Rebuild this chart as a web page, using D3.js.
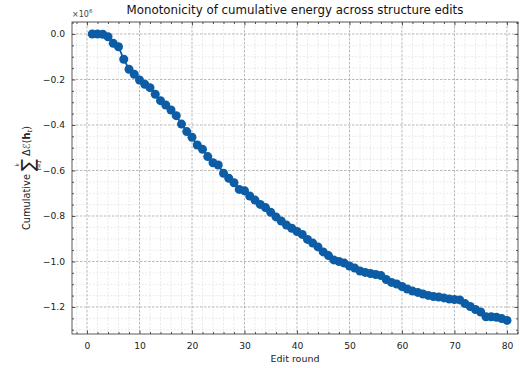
<!DOCTYPE html>
<html>
<head>
<meta charset="utf-8">
<script src="https://cdn.jsdelivr.net/npm/d3@7"></script>
<style>
  body { margin: 0; background: #fff; }
  svg { font-family: "DejaVu Sans", sans-serif; }
</style>
</head>
<body>
<div id="chart"></div>
<script>
"use strict";

// ------------------------- Data -------------------------

const editRounds = d3.range(1, 81);

// cumulative energy, units of 1e6
const cumulativeEnergy = [
    0.000, 0.000, -0.001, -0.012, -0.041, -0.056, -0.111, -0.155, -0.177, -0.202,
    -0.221, -0.236, -0.265, -0.293, -0.312, -0.334, -0.359, -0.396, -0.429, -0.454,
    -0.488, -0.507, -0.539, -0.566, -0.576, -0.612, -0.634, -0.654, -0.683, -0.689,
    -0.712, -0.730, -0.749, -0.763, -0.784, -0.804, -0.822, -0.840, -0.854, -0.868,
    -0.881, -0.903, -0.919, -0.936, -0.958, -0.974, -0.993, -1.000, -1.007, -1.020,
    -1.029, -1.042, -1.048, -1.053, -1.057, -1.062, -1.079, -1.092, -1.099, -1.110,
    -1.121, -1.130, -1.136, -1.143, -1.149, -1.154, -1.156, -1.160, -1.165, -1.167,
    -1.169, -1.185, -1.198, -1.211, -1.222, -1.243, -1.243, -1.245, -1.251, -1.259
];

const xTicks = [0, 10, 20, 30, 40, 50, 60, 70, 80];
const yTicks = [0, -0.2, -0.4, -0.6, -0.8, -1.0, -1.2];

const titleText = 'Monotonicity of cumulative energy across structure edits';
const xLabelText = 'Edit round';

// ------------------------- Layout -------------------------

const width = 520, height = 368;
const frame = { left: 72, right: 518, top: 22, bottom: 334 };
const color = '#0C5DA5';

const x = d3.scaleLinear().domain([-2.86, 82.1]).range([frame.left, frame.right]);
const y = d3.scaleLinear().domain([0.0527, -1.3187]).range([frame.top, frame.bottom]);

const svg = d3.select('#chart').append('svg')
    .attr('width', width)
    .attr('height', height);

// ------------------------- Grid -------------------------

const xMinor = d3.range(-2, 83, 2).filter(v => v % 10 !== 0);
const yMinor = d3.range(0.05, -1.35, -0.05)
    .map(v => Math.round(v * 100) / 100)
    .filter(v => Math.round(v * 100) % 20 !== 0);

const grid = svg.append('g');

function gridLines(values, vertical, stroke, widthPx, dash) {
    grid.append('g').selectAll('line').data(values).enter().append('line')
        .attr('x1', d => vertical ? x(d) : frame.left)
        .attr('x2', d => vertical ? x(d) : frame.right)
        .attr('y1', d => vertical ? frame.top : y(d))
        .attr('y2', d => vertical ? frame.bottom : y(d))
        .attr('stroke', stroke)
        .attr('stroke-width', widthPx)
        .attr('stroke-dasharray', dash);
}

gridLines(xMinor, true, '#dedede', 0.6, '2,1.5');
gridLines(yMinor, false, '#dedede', 0.6, '2,1.5');
gridLines(xTicks, true, '#9a9a9a', 0.7, '2.5,1.5');
gridLines(yTicks, false, '#9a9a9a', 0.7, '2.5,1.5');

// ------------------------- Axes -------------------------

const minus = s => s.replace('-', '\u2212');

function insideAxis(axisFn, scale, ticks, size) {
    return axisFn(scale).tickValues(ticks).tickSizeInner(-size).tickSizeOuter(0);
}

const bottomAxis = svg.append('g')
    .attr('transform', `translate(0,${frame.bottom})`)
    .call(insideAxis(d3.axisBottom, x, xTicks, 3.5).tickFormat(d3.format('d')).tickPadding(8));
const topAxis = svg.append('g')
    .attr('transform', `translate(0,${frame.top})`)
    .call(insideAxis(d3.axisTop, x, xTicks, 3.5).tickFormat(''));
const leftAxis = svg.append('g')
    .attr('transform', `translate(${frame.left},0)`)
    .call(insideAxis(d3.axisLeft, y, yTicks, 3.5).tickFormat(d => minus(d3.format('.1f')(d))).tickPadding(7));
const rightAxis = svg.append('g')
    .attr('transform', `translate(${frame.right},0)`)
    .call(insideAxis(d3.axisRight, y, yTicks, 3.5).tickFormat(''));

bottomAxis.append('g').call(insideAxis(d3.axisBottom, x, xMinor, 2).tickFormat(''));
topAxis.append('g').call(insideAxis(d3.axisTop, x, xMinor, 2).tickFormat(''));
leftAxis.append('g').call(insideAxis(d3.axisLeft, y, yMinor, 2).tickFormat(''));
rightAxis.append('g').call(insideAxis(d3.axisRight, y, yMinor, 2).tickFormat(''));

[bottomAxis, topAxis, leftAxis, rightAxis].forEach(a => {
    a.selectAll('.domain').remove();
    a.selectAll('line').attr('stroke', '#333').attr('stroke-width', 0.8);
    a.selectAll('text').attr('font-size', 9.2).attr('fill', '#222')
        .attr('font-family', '"DejaVu Sans", sans-serif');
});

svg.append('rect')
    .attr('x', frame.left).attr('y', frame.top)
    .attr('width', frame.right - frame.left)
    .attr('height', frame.bottom - frame.top)
    .attr('fill', 'none').attr('stroke', '#333').attr('stroke-width', 0.8);

// ------------------------- Series -------------------------

const points = editRounds.map((r, i) => ({ round: r, value: cumulativeEnergy[i] }));

svg.append('path')
    .datum(points)
    .attr('fill', 'none')
    .attr('stroke', color)
    .attr('stroke-width', 1.8)
    .attr('d', d3.line().x(d => x(d.round)).y(d => y(d.value)));

svg.selectAll('.pt').data(points).enter().append('circle')
    .attr('cx', d => x(d.round))
    .attr('cy', d => y(d.value))
    .attr('r', 4.5)
    .attr('fill', color);

// ------------------------- Labels -------------------------

svg.append('text')
    .attr('x', (frame.left + frame.right) / 2)
    .attr('y', 14)
    .attr('text-anchor', 'middle')
    .attr('font-size', 11.8)
    .attr('fill', '#111')
    .text(titleText);

svg.append('text')
    .attr('x', (frame.left + frame.right) / 2)
    .attr('y', 362)
    .attr('text-anchor', 'middle')
    .attr('font-size', 9.5)
    .attr('fill', '#222')
    .text(xLabelText);

const offset = svg.append('text')
    .attr('x', frame.left)
    .attr('y', 17)
    .attr('font-size', 8)
    .attr('fill', '#444');
offset.append('tspan').text('\u00d710');
offset.append('tspan').attr('font-size', 5.5).attr('dy', -4).text('6');

// y label: Cumulative sum_{t=1}^{k} ΔE(h_t), laid out piece by piece
const yLabel = svg.append('g')
    .attr('transform', `translate(29.5,${(frame.top + frame.bottom) / 2}) rotate(-90)`);

function piece(text, size, dy, opts = {}) {
    const t = yLabel.append('text')
        .attr('font-size', size)
        .attr('fill', '#222')
        .attr('y', dy)
        .attr('font-style', opts.italic ? 'italic' : null)
        .attr('font-weight', opts.bold ? 'bold' : null)
        .text(text);
    return { node: t, w: t.node().getComputedTextLength() };
}

const cum = piece('Cumulative', 9.8, 0);
const sum = piece('\u2211', 18, 4);
const supK = piece('k', 5.5, -10.5, { italic: true });
const subT = piece('t=1', 5.5, 11.5, { italic: true });
const delta = piece('\u0394\u2130(', 9.8, 0);
const hBold = piece('h', 9.8, 0, { bold: true });
const subC = piece('t', 6.8, 2, { italic: true });
const close = piece(')', 9.8, 0);

const gap = 3;
const total = cum.w + gap + sum.w + gap + delta.w + hBold.w + subC.w + close.w;
let cursor = -total / 2;
cum.node.attr('x', cursor); cursor += cum.w + gap;
sum.node.attr('x', cursor);
supK.node.attr('x', cursor + sum.w / 2 - supK.w / 2);
subT.node.attr('x', cursor + sum.w / 2 - subT.w / 2);
cursor += sum.w + gap;
delta.node.attr('x', cursor); cursor += delta.w;
hBold.node.attr('x', cursor); cursor += hBold.w;
subC.node.attr('x', cursor); cursor += subC.w;
close.node.attr('x', cursor);
</script>
</body>
</html>
